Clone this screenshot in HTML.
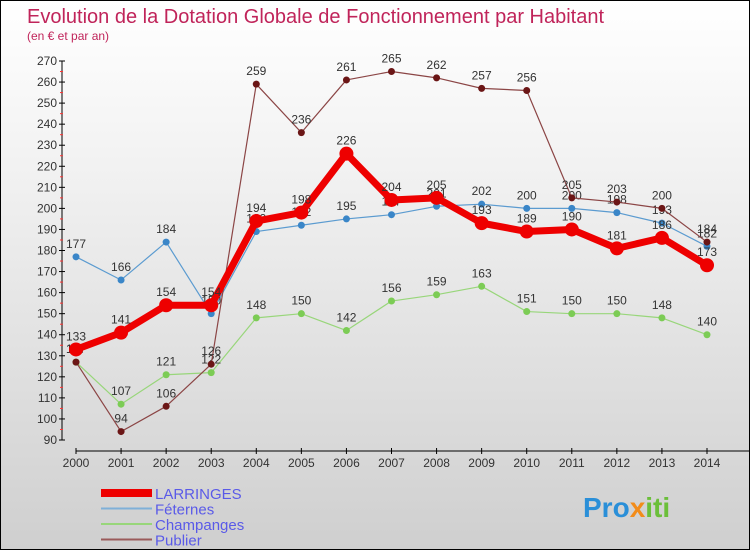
<!DOCTYPE html>
<html><head><meta charset="utf-8"><style>
body{margin:0}
#c{width:750px;height:550px;position:relative;box-sizing:border-box;border:1px solid #000;background:linear-gradient(#ffffff,#f2f2f2 30%,#cfcfcf);overflow:hidden;font-family:"Liberation Sans",sans-serif}
</style></head><body>
<div id="c">
<svg id="s" width="750" height="550">
<text x="26" y="22" font-size="20" fill="#c0245a">Evolution de la Dotation Globale de Fonctionnement par Habitant</text>
<text x="26" y="39" font-size="12" fill="#c0245a">(en € et par an)</text>
<text x="582" y="516" font-size="28" font-weight="bold" fill="#2a8fd8">Pro<tspan fill="#f28c1a">x</tspan><tspan fill="#6bbf3a">iti</tspan></text>
</svg>
</div>
<script>
const years=[2000,2001,2002,2003,2004,2005,2006,2007,2008,2009,2010,2011,2012,2013,2014];
const larringes=[133,141,154,154,194,198,226,204,205,193,189,190,181,186,173];
const feternes=[177,166,184,150,189,192,195,197,201,202,200,200,198,193,182];
const champanges=[127,107,121,122,148,150,142,156,159,163,151,150,150,148,140];
const publier=[127,94,106,126,259,236,261,265,262,257,256,205,203,200,184];
const yTicks=[90,100,110,120,130,140,150,160,170,180,190,200,210,220,230,240,250,260,270];
const NS="http://www.w3.org/2000/svg";
const svg=document.getElementById('s');
const X=i=>75+i*(706-75)/14;
const Y=v=>439-(v-90)*(439-60)/180;
function el(t,a,p){const e=document.createElementNS(NS,t);for(const k in a)e.setAttribute(k,a[k]);(p||svg).appendChild(e);return e;}
const ax=el('g',{});


el('line',{x1:61,y1:Y(270),x2:61,y2:Y(90),stroke:'#000'},ax);
yTicks.forEach(v=>{
  el('line',{x1:58,x2:64,y1:Y(v),y2:Y(v),stroke:'#000'},ax);
  if(v<270)el('line',{x1:59,x2:62,y1:Y(v+5),y2:Y(v+5),stroke:'#f33'},ax);
  const t=el('text',{x:56,y:Y(v)+4,'font-size':12,fill:'#333','text-anchor':'end'},ax);t.textContent=v;
  
  
});
el('line',{x1:75,y1:450,x2:750,y2:450,stroke:'#000'},ax);
years.forEach((y,i)=>{
  el('line',{x1:X(i),x2:X(i),y1:447,y2:453,stroke:'#000'},ax);
  const t=el('text',{x:X(i),y:466,'font-size':12,fill:'#333','text-anchor':'middle'},ax);t.textContent=y;
  
  
});
const series=[
 {n:'feternes',d:feternes,c:'#5b9bd0',w:1.2,r:3.5,pc:'#3a86c8'},
 {n:'champanges',d:champanges,c:'#98d67a',w:1.2,r:3.5,pc:'#7ccc55'},
 {n:'publier',d:publier,c:'#8b4545',w:1.2,r:3.5,pc:'#6b1616'},
 {n:'larringes',d:larringes,c:'#ee0000',w:7,r:7,pc:'#ee0000'}
];
series.forEach(s=>{
  const g=el('g',{});
  
  
  const pl=el('polyline',{points:s.d.map((v,i)=>X(i)+','+Y(v)).join(' '),fill:'none',stroke:s.c,'stroke-width':s.w,'stroke-linejoin':'round'},g);
  
  
  s.d.forEach((v,i)=>{
    const c=el('circle',{cx:X(i),cy:Y(v),r:s.r,fill:s.pc},g);
    
    
    const t=el('text',{x:X(i),y:Y(v)-9,'font-size':12,fill:'#333','text-anchor':'middle'},g);t.textContent=v;
    
    
  });
});
const leg=[['LARRINGES','#ee0000',8],['Féternes','#7fb0d8',2],['Champanges','#98d67a',2],['Publier','#9a5a5a',2]];
leg.forEach((l,i)=>{
  const g=el('g',{});
  
  
  const y=492+i*15.5;
  el('line',{x1:100,x2:151,y1:y,y2:y,stroke:l[1],'stroke-width':l[2]},g);
  const t=el('text',{x:154,y:y+6,'font-size':15,fill:'#5a5ae8'},g);t.textContent=l[0];
});
</script>
</body></html>
